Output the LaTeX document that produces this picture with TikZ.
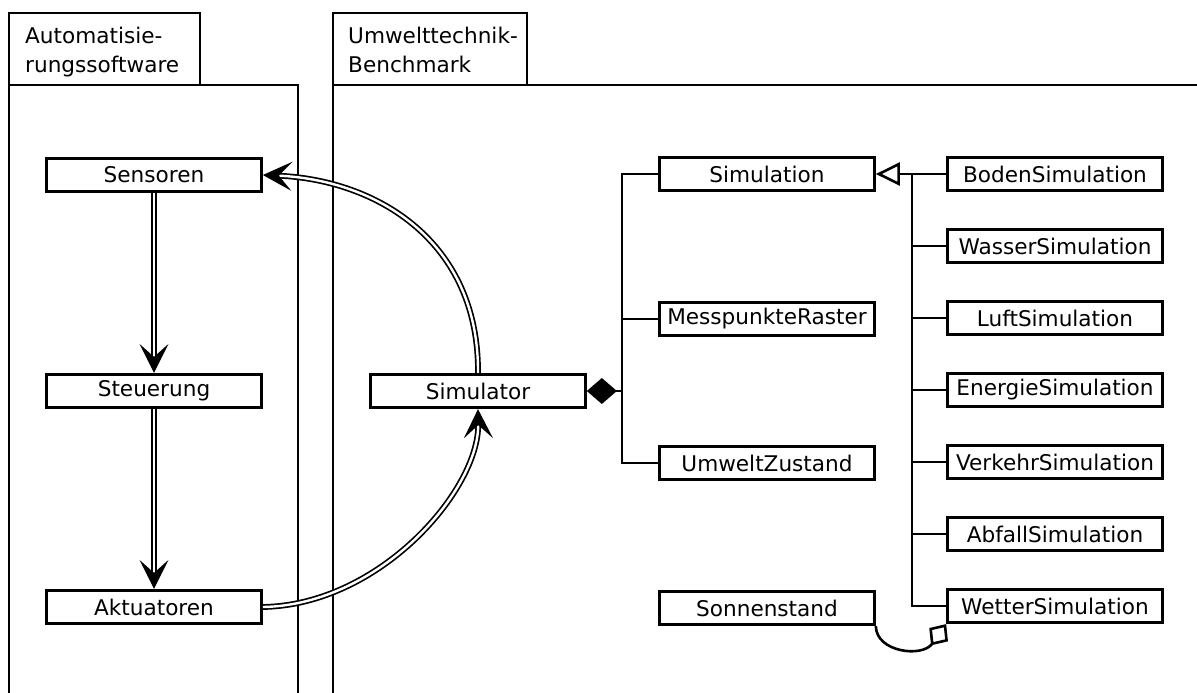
\documentclass[tikz,border=0pt]{standalone}
\usepackage{fontspec}
\setmainfont{DejaVu Sans}
\usetikzlibrary{arrows.meta,calc}
\begin{document}
\begin{tikzpicture}[x=1pt,y=-1pt,
  every node/.style={font=\fontsize{21.6}{29}\selectfont},
  frame/.style={line width=2.6pt},
  cls/.style={draw,line width=2.7pt,minimum width=215pt,minimum height=33.5pt,inner sep=0pt,anchor=center},
  conn/.style={line width=2.6pt},
  dbl/.style={line width=1.7pt,double,double distance=2.4pt,-{Stealth[length=29pt,width=29pt,inset=13pt]}}]
\useasboundingbox (0,0) rectangle (1197,693);
% packages
\draw[frame] (9,13) rectangle (200,85);
\draw[frame] (9,710) -- (9,85) -- (298,85) -- (298,710);
\node[anchor=north west,inner sep=0pt,align=left] (tabA) at (25,27) {Automatisie-\\rungssoftware};
\draw[frame] (333,13) rectangle (527,85);
\draw[frame] (333,710) -- (333,85) -- (1210,85);
\node[anchor=north west,inner sep=0pt,align=left] (tabB) at (348,27) {Umwelttechnik-\\Benchmark};
% left nodes
\node[cls] (sen) at (154,175) {Sensoren};
\node[cls] (ste) at (154,391) {Steuerung};
\node[cls] (akt) at (154,607) {Aktuatoren};
% simulator
\node[cls] (sim) at (478,391) {Simulator};
\node[cls] (simu) at (767,174) {Simulation};
\node[cls] (mes) at (767,319) {MesspunkteRaster};
\node[cls] (umw) at (767,463) {UmweltZustand};
\node[cls] (son) at (767,608) {Sonnenstand};
% right column
\node[cls] (bod) at (1055,174) {BodenSimulation};
\node[cls] (was) at (1055,246) {WasserSimulation};
\node[cls] (luf) at (1055,318) {LuftSimulation};
\node[cls] (ene) at (1055,390) {EnergieSimulation};
\node[cls] (ver) at (1055,462) {VerkehrSimulation};
\node[cls] (abf) at (1055,534) {AbfallSimulation};
\node[cls] (wet) at (1055,606) {WetterSimulation};
% double arrows
\draw[dbl] (sen.south) -- (ste.north);
\draw[dbl] (ste.south) -- (akt.north);
\draw[dbl] (sim.north) .. controls (479,242) and (378,180) .. (sen.east);
\draw[dbl] (akt.east) .. controls (380,605) and (479,490) .. (sim.south);
% composition
\coordinate (cbus) at (622,391);
\draw[conn,{Diamond[length=30pt,width=26pt]}-] (sim.east) -- (cbus);
\draw[conn] (simu.west) -- ++(-36,0) |- (umw.west);
\draw[conn] (mes.west) -- ++(-36,0);
% inheritance
\draw[conn,{Triangle[open,length=24pt,width=23pt]}-] (simu.east) -- (bod.west);
\draw[conn] ($(bod.west)+(-34,0)$) |- (wet.west);
\foreach \n in {was,luf,ene,ver,abf} \draw[conn] (\n.west) -- ++(-34,0);
% aggregation
\draw[conn,-{Diamond[open,length=26pt,width=23pt]}] (son.south east) .. controls (876,652) and (922,658) .. (wet.south west);
\end{tikzpicture}
\end{document}
